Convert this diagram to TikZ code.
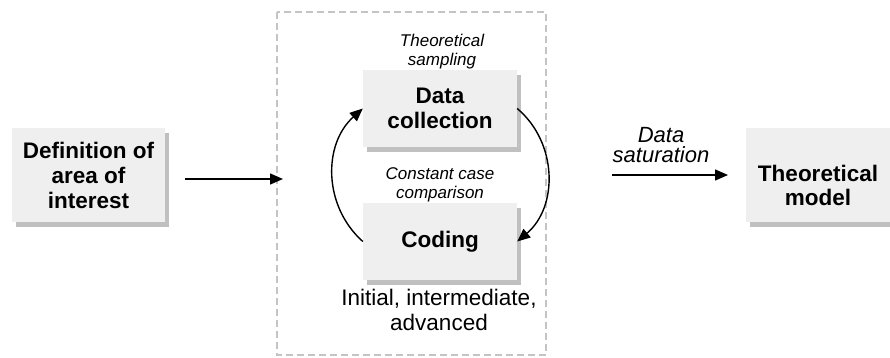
\documentclass[tikz,border=0pt]{standalone}
\usepackage{fontspec}
\setmainfont{Liberation Sans}
\usetikzlibrary{arrows.meta,shadows}
\definecolor{boxfill}{HTML}{EFEFEF}
\definecolor{boxshadow}{HTML}{C0C0C0}
\definecolor{frameline}{HTML}{C4C4C4}
\tikzset{
  stepbox/.style={rectangle, fill=boxfill, align=center, inner sep=0pt,
    font=\fontsize{22.5}{25}\selectfont\bfseries,
    drop shadow={shadow xshift=4pt, shadow yshift=-5pt, fill=boxshadow, opacity=1}},
  boxtext/.style={align=center, inner sep=0pt, font=\fontsize{22.5}{24}\selectfont\bfseries},
  note/.style={align=center, inner sep=0pt, font=\fontsize{17}{19}\selectfont\itshape},
  flow/.style={line width=1.4pt, -{Triangle[length=13pt, width=11pt]}},
}
\begin{document}
\begin{tikzpicture}[x=1pt, y=-1pt]
  \useasboundingbox (0,0) rectangle (890,358);
  \begin{scope}
  \clip (0,0) rectangle (890,358);

  % iterative core of the process
  \draw[frameline, line width=1.2pt, dash pattern=on 7pt off 4pt] (277,12) rectangle (546,355);

  % steps
  \node[stepbox, minimum width=153pt, minimum height=94pt] (def) at (88.5,175)
    {Definition of\\area of\\interest};
  \node[stepbox, minimum width=154pt, minimum height=77pt] (dc) at (440,108.5)
    {Data\\collection};
  \node[stepbox, minimum width=154pt, minimum height=77pt] (cod) at (440,241.5)
    {Coding};
  \node[stepbox, minimum width=144pt, minimum height=94pt] (tm) at (818,175) {};
  \node[boxtext] (tmtext) at (818,185) {Theoretical\\model};

  % annotations
  \node[note] (samp) at (442,52) {Theoretical\\sampling};
  \node[note] (comp) at (440,185) {Constant case\\comparison};
  \node[align=center, inner sep=0pt, font=\fontsize{22.5}{25}\selectfont] (lev) at (439,310)
    {Initial, intermediate,\\advanced};
  \node[align=center, inner sep=0pt, font=\fontsize{22}{20}\selectfont\itshape] (sat) at (661,145)
    {Data\\saturation};

  % connectors
  \coordinate (a1s) at (185,179);
  \coordinate (a1e) at (283,179);
  \coordinate (a2s) at (612,175);
  \coordinate (a2e) at (728,175);
  \draw[flow] (a1s) -- (a1e);
  \draw[flow] (a2s) -- (a2e);
  \draw[flow] (dc.east) .. controls (558,143) and (558,207) .. (cod.east);
  \draw[flow] (cod.west) .. controls (323,206) and (323,144) .. (dc.west);
  \end{scope}
\end{tikzpicture}
\end{document}
